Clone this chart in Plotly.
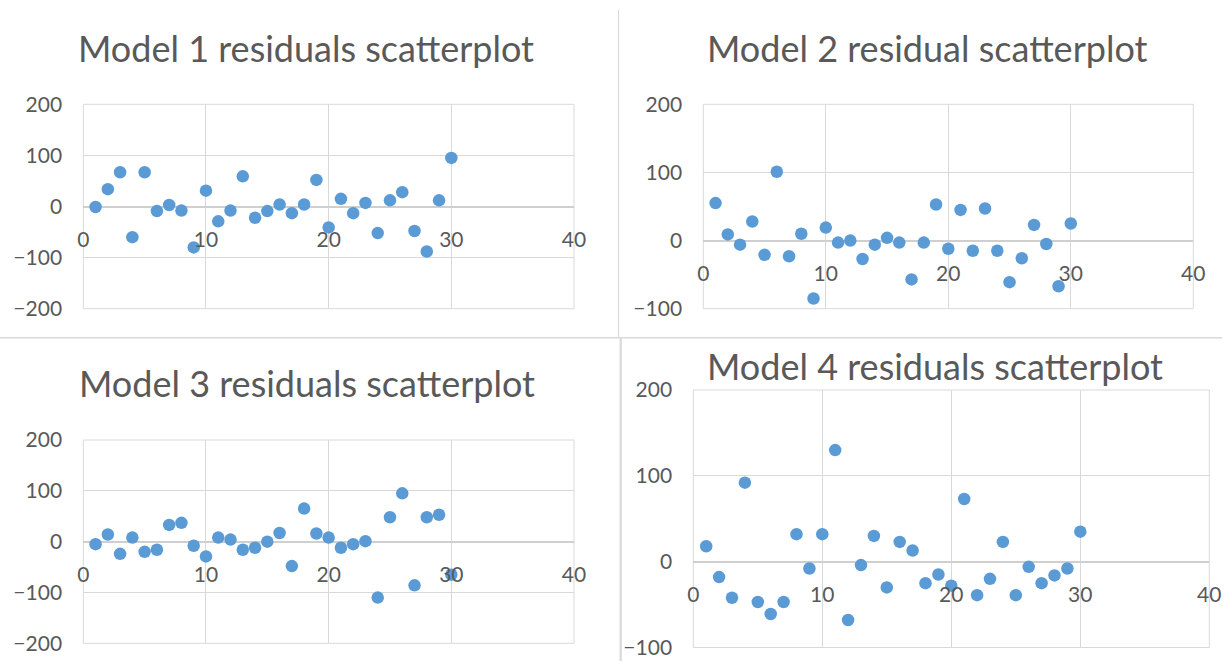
import plotly.graph_objects as go

# ---- data ----
obs = list(range(1, 31))
titles = ["Model 1 residuals scatterplot", "Model 2 residual scatterplot",
          "Model 3 residuals scatterplot", "Model 4 residuals scatterplot"]
m1 = [-1, 34, 67, -60, 67, -9, 3, -8, -80, 31, -29, -8, 59, -22, -9, 4, -13, 4, 52, -41,
      15, -13, 7, -52, 12, 28, -48, -88, 12, 95]
m2 = [55, 9, -6, 28, -21, 101, -23, 10, -85, 19, -3, 0, -27, -6, 4, -3, -57, -3, 53, -12,
      45, -15, 47, -15, -61, -26, 23, -5, -67, 25]
m3 = [-5, 14, -24, 8, -20, -16, 33, 37, -8, -29, 8, 4, -16, -12, 0, 17, -48, 65, 16, 8,
      -12, -5, 1, -110, 48, 95, -86, 48, 53, -65]
m4 = [18, -18, -42, 92, -47, -61, -47, 32, -8, 32, 130, -68, -4, 30, -30, 23, 13, -25, -15, -28,
      73, -39, -20, 23, -39, -6, -25, -16, -8, 35]
series = [m1, m2, m3, m4]
y_ranges = [[-200, 200], [-100, 200], [-200, 200], [-100, 200]]
x_range = [0, 40]

# ---- layout geometry (pixels in 1231x661) ----
W, H = 1231, 661
boxes = [  # left, right, top, bottom in px
    (83.3, 574.0, 104.3, 308.7),
    (703.3, 1193.3, 104.3, 308.7),
    (83.3, 574.0, 440.0, 643.3),
    (693.3, 1209.3, 390.0, 647.5),
]
title_pos = [(306, 48), (927, 48), (307, 383), (935, 366)]

GRID = "#d9d9d9"
TXT = "#595959"
FONT = "Lato"
BLUE = "#5b9bd5"

fig = go.Figure()
layout = dict(
    template="none",
    width=W, height=H,
    margin=dict(l=0, r=0, t=0, b=0, pad=0, autoexpand=False),
    paper_bgcolor="white", plot_bgcolor="white",
    showlegend=False,
    font=dict(family=FONT, color=TXT, size=20),
)
shapes = []
annotations = []

for i, (vals, yr, box, ttl, tp) in enumerate(zip(series, y_ranges, boxes, titles, title_pos)):
    n = "" if i == 0 else str(i + 1)
    l, r, t, b = box
    xd = [l / W, r / W]
    yd = [1 - b / H, 1 - t / H]
    zero_pos = yd[0] + (0 - yr[0]) / (yr[1] - yr[0]) * (yd[1] - yd[0])
    fig.add_trace(go.Scatter(x=obs, y=vals, mode="markers",
                             marker=dict(color=BLUE, size=12.5, line=dict(width=0)),
                             xaxis="x" + n, yaxis="y" + n, hoverinfo="x+y"))
    layout["xaxis" + n] = dict(
        domain=xd, range=x_range, dtick=10, tick0=0,
        anchor="free", position=zero_pos, automargin=False,
        showgrid=True, gridcolor=GRID, gridwidth=1,
        zeroline=False, showline=False,
        ticks="outside", ticklen=14, tickcolor="rgba(0,0,0,0)",
        tickfont=dict(family=FONT, size=21, color=TXT),
        ticklabeloverflow="allow",
        fixedrange=True,
    )
    layout["yaxis" + n] = dict(
        domain=yd, range=yr, dtick=100, tick0=0,
        anchor="x" + n, automargin=False,
        showgrid=True, gridcolor=GRID, gridwidth=1,
        zeroline=True, zerolinecolor="#cfcfcf", zerolinewidth=1.5,
        showline=False,
        ticks="outside", ticklen=16, tickcolor="rgba(0,0,0,0)",
        tickfont=dict(family=FONT, size=21, color=TXT),
        ticklabeloverflow="allow",
        fixedrange=True,
    )
    shapes.append(dict(type="rect", xref="x" + n + " domain", yref="y" + n + " domain",
                       x0=0, x1=1, y0=0, y1=1, line=dict(color=GRID, width=1), layer="below"))
    annotations.append(dict(text=ttl, xref="paper", yref="paper",
                            x=tp[0] / W, y=1 - tp[1] / H, xanchor="center", yanchor="middle",
                            showarrow=False, font=dict(family=FONT, size=36, color=TXT)))

# divider lines between panels
shapes += [
    dict(type="line", xref="paper", yref="paper", x0=618.5 / W, x1=618.5 / W,
         y0=1 - 10 / H, y1=1 - 337.7 / H, line=dict(color=GRID, width=1.2)),
    dict(type="line", xref="paper", yref="paper", x0=0, x1=1222 / W,
         y0=1 - 337.7 / H, y1=1 - 337.7 / H, line=dict(color=GRID, width=1.5)),
    dict(type="line", xref="paper", yref="paper", x0=620.7 / W, x1=620.7 / W,
         y0=1 - 338 / H, y1=0, line=dict(color=GRID, width=2.2)),
]
layout["shapes"] = shapes
layout["annotations"] = annotations
fig.update_layout(**layout)
fig.write_html("out.html", config={"displayModeBar": False})
